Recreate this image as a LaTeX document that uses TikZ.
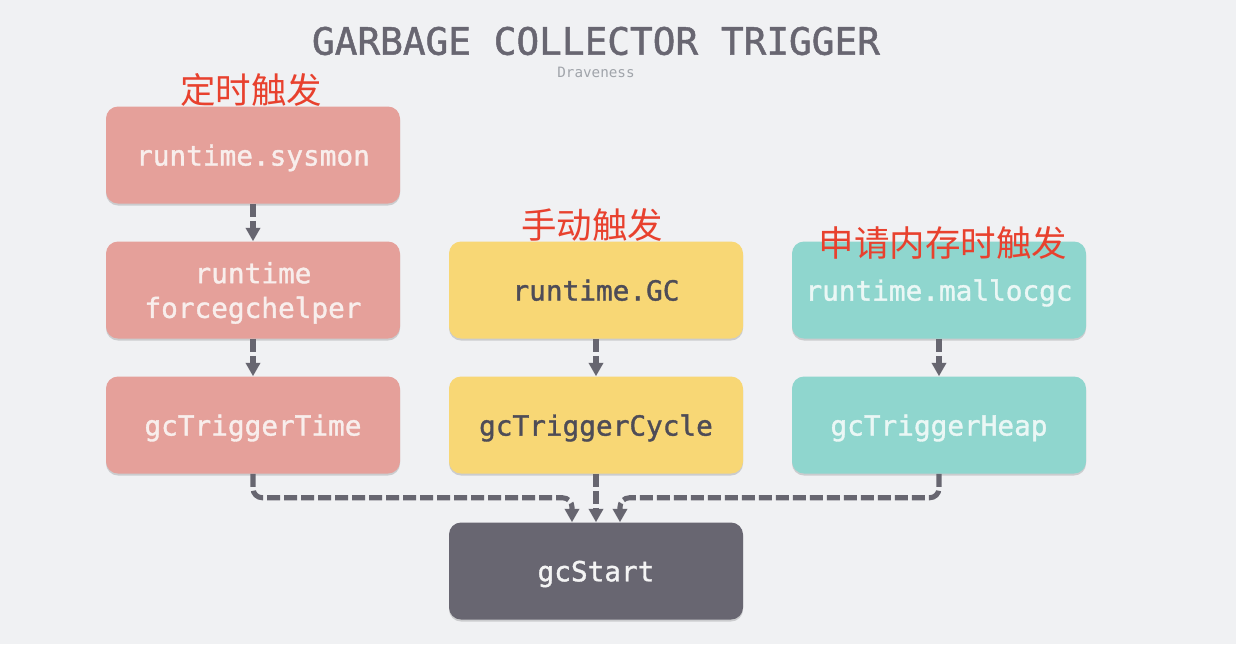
\documentclass[tikz,border=0pt]{standalone}
\usepackage{fontspec}
\setmonofont{DejaVu Sans Mono}
\newfontfamily\boxfont{DejaVu Sans Mono}[BoldFont={DejaVu Sans Mono},BoldFeatures={FakeBold=1.3}]
\newfontfamily\cjk{Noto Sans CJK SC}
\usetikzlibrary{arrows.meta,shadows}
\definecolor{bg}{HTML}{F0F1F3}
\definecolor{pinkbox}{HTML}{E5A09A}
\definecolor{yellowbox}{HTML}{F8D775}
\definecolor{tealbox}{HTML}{8FD6CE}
\definecolor{darkbox}{HTML}{686671}
\definecolor{pinktext}{HTML}{F8EEEC}
\definecolor{tealtext}{HTML}{EAF7F5}
\definecolor{yellowtext}{HTML}{4E4C57}
\definecolor{darktext}{HTML}{F4F4F4}
\definecolor{conncol}{HTML}{676670}
\definecolor{titlecol}{HTML}{686671}
\definecolor{subcol}{HTML}{A0A4AA}
\definecolor{redlabel}{HTML}{E8412E}
\tikzset{
  fnbox/.style={rounded corners=9pt, minimum width=220.5pt, minimum height=72.75pt,
    inner sep=0pt, align=center, text depth=0pt, font=\boxfont\bfseries\fontsize{20.8}{26}\selectfont,
    drop shadow={shadow xshift=0pt, shadow yshift=-1.5pt, opacity=0.22, fill=black!70}},
  pinkfn/.style={fnbox, fill=pinkbox, text=pinktext},
  yellowfn/.style={fnbox, fill=yellowbox, text=yellowtext},
  tealfn/.style={fnbox, fill=tealbox, text=tealtext},
  darkfn/.style={fnbox, fill=darkbox, text=darktext},
  conn/.style={draw=conncol, line width=3.8pt, dash pattern=on 9.75pt off 3pt,
    -{Triangle[length=10pt,width=10.5pt]}},
  cnlabel/.style={text=redlabel, font=\cjk\fontsize{26.6}{30}\selectfont, inner sep=0pt},
}
\begin{document}
\begin{tikzpicture}[x=0.75pt,y=-0.75pt]
\fill[bg] (0,0) rectangle (1236,644);
\useasboundingbox (0,0) rectangle (1236,644);

\node[text=titlecol, font=\boxfont\bfseries\fontsize{28.3}{32}\selectfont] (title) at (596,41) {GARBAGE COLLECTOR TRIGGER};
\node[text=subcol, font=\ttfamily\fontsize{10.7}{12}\selectfont] (sub) at (596,72) {Draveness};

\node[pinkfn] (sysmon) at (253,155) {runtime.sysmon};
\node[pinkfn] (force) at (253,290) {runtime\\forcegchelper};
\node[pinkfn] (tTime) at (253,425) {gcTriggerTime};

\node[yellowfn] (gc) at (596,290) {runtime.GC};
\node[yellowfn] (tCycle) at (596,425) {gcTriggerCycle};

\node[tealfn] (malloc) at (939,290) {runtime.mallocgc};
\node[tealfn] (tHeap) at (939,425) {gcTriggerHeap};

\node[darkfn] (gcStart) at (596,571) {gcStart};

\node[cnlabel] (l1) at (251,90) {定时触发};
\node[cnlabel] (l2) at (592,225) {手动触发};
\node[cnlabel] (l3) at (943,243) {申请内存时触发};

\draw[conn] (sysmon) -- (force);
\draw[conn] (force) -- (tTime);
\draw[conn] (gc) -- (tCycle);
\draw[conn] (malloc) -- (tHeap);

\draw[conn, rounded corners=7pt] (tTime.south) -- ++(0,24) -| ([xshift=-18pt]gcStart.north);
\draw[conn] (tCycle.south) -- (gcStart.north);
\draw[conn, rounded corners=7pt] (tHeap.south) -- ++(0,24) -| ([xshift=18pt]gcStart.north);
\end{tikzpicture}
\end{document}
